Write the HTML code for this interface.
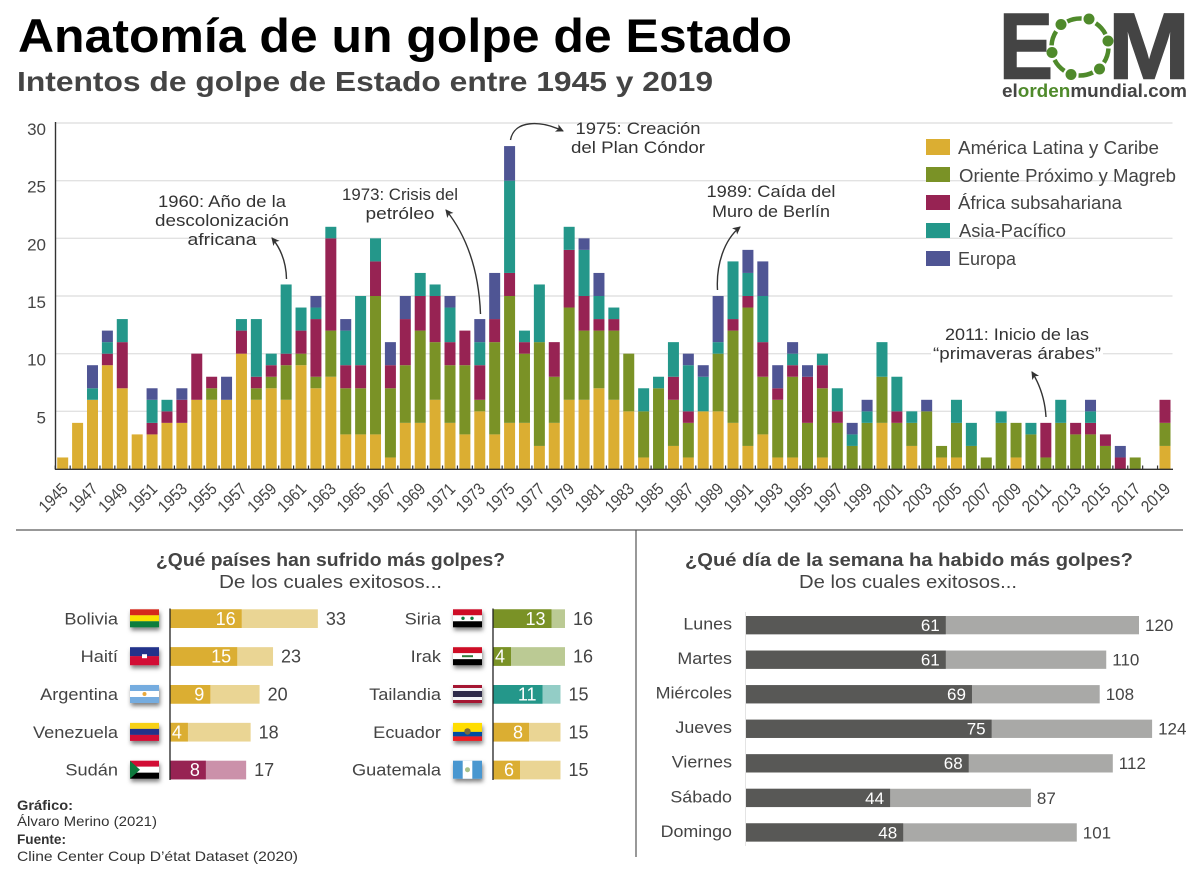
<!DOCTYPE html>
<html lang="es">
<head>
<meta charset="utf-8">
<title>Anatomía de un golpe de Estado</title>
<style>
html,body{margin:0;padding:0;background:#fff;width:1200px;height:873px;overflow:hidden}
svg{display:block}
text{font-family:"Liberation Sans",sans-serif;fill:#444}
.note{font-size:17px;fill:#333;text-anchor:middle}
.leg{font-size:18px;fill:#444}
.foot{font-size:14px;fill:#333}
</style>
</head>
<body>
<svg id="root" xmlns="http://www.w3.org/2000/svg" width="1200" height="873" viewBox="0 0 1200 873">
<defs>
<marker id="arrow" markerWidth="9" markerHeight="9" refX="7" refY="4" orient="auto" markerUnits="userSpaceOnUse"><path d="M0 0L8 4L0 8L2 4Z" fill="#333"/></marker>
<filter id="flagshadow" x="-20%" y="-20%" width="150%" height="180%"><feDropShadow dx="1" dy="3" stdDeviation="2" flood-color="#000" flood-opacity=".5"/></filter>
</defs>
<rect width="1200" height="873" fill="#fff"/>

<text x="18" y="52" font-size="47" font-weight="700" textLength="774" lengthAdjust="spacingAndGlyphs" style="fill:#000">Anatomía de un golpe de Estado</text>
<text x="17" y="91" font-size="28" font-weight="700" textLength="696" lengthAdjust="spacingAndGlyphs">Intentos de golpe de Estado entre 1945 y 2019</text>

<g>
<text x="999" y="78.5" font-size="94" font-weight="700" textLength="54" lengthAdjust="spacingAndGlyphs" stroke="#444" stroke-width="1.5">E</text>
<text x="1108" y="78.5" font-size="94" font-weight="700" textLength="82" lengthAdjust="spacingAndGlyphs" stroke="#444" stroke-width="1.5">M</text>
<circle cx="1080" cy="47" r="28.5" fill="none" stroke="#4f8a2b" stroke-width="4.5" stroke-dasharray="14.85 15" stroke-dashoffset="-1.5"/>
<circle cx="1061" cy="24.5" r="5.5" fill="#4f8a2b"/>
<circle cx="1089" cy="19" r="5.5" fill="#4f8a2b"/>
<circle cx="1108" cy="41" r="5.5" fill="#4f8a2b"/>
<circle cx="1099.5" cy="69" r="5.5" fill="#4f8a2b"/>
<circle cx="1071" cy="74.5" r="5.5" fill="#4f8a2b"/>
<circle cx="1052" cy="52.5" r="5.5" fill="#4f8a2b"/>
<text x="1002" y="97" font-size="18" font-weight="700" textLength="185" lengthAdjust="spacingAndGlyphs">el<tspan style="fill:#4f8a2b">orden</tspan>mundial.com</text>
</g>

<g id="main-chart"></g>

<g>
<rect x="926" y="139" width="24" height="16" fill="#dbae32"/>
<text class="leg" x="958" y="154" textLength="201" lengthAdjust="spacingAndGlyphs">América Latina y Caribe</text>
<rect x="926" y="167" width="24" height="15" fill="#7a9226"/>
<text class="leg" x="959" y="182" textLength="217" lengthAdjust="spacingAndGlyphs">Oriente Próximo y Magreb</text>
<rect x="926" y="195" width="24" height="15" fill="#972353"/>
<text class="leg" x="958" y="209" textLength="164" lengthAdjust="spacingAndGlyphs">África subsahariana</text>
<rect x="926" y="223" width="24" height="15" fill="#24978a"/>
<text class="leg" x="959" y="237" textLength="107" lengthAdjust="spacingAndGlyphs">Asia-Pacífico</text>
<rect x="926" y="251" width="24" height="15" fill="#4f5594"/>
<text class="leg" x="958" y="265" textLength="58" lengthAdjust="spacingAndGlyphs">Europa</text>
</g>

<g>
<text class="note" x="222" y="207" textLength="128" lengthAdjust="spacingAndGlyphs">1960: Año de la</text>
<text class="note" x="222" y="226" textLength="134" lengthAdjust="spacingAndGlyphs">descolonización</text>
<text class="note" x="222" y="245" textLength="69" lengthAdjust="spacingAndGlyphs">africana</text>
<path d="M286.5 279Q286 255 272 238" fill="none" stroke="#333" stroke-width="1.4" marker-end="url(#arrow)"/>
<text class="note" x="400" y="200" textLength="116" lengthAdjust="spacingAndGlyphs">1973: Crisis del</text>
<text class="note" x="400" y="219" textLength="69" lengthAdjust="spacingAndGlyphs">petróleo</text>
<path d="M480.5 314Q478 250 446 210" fill="none" stroke="#333" stroke-width="1.4" marker-end="url(#arrow)"/>
<text class="note" x="638" y="134" textLength="125" lengthAdjust="spacingAndGlyphs">1975: Creación</text>
<text class="note" x="638" y="153" textLength="134" lengthAdjust="spacingAndGlyphs">del Plan Cóndor</text>
<path d="M510.5 140C514 120 540 120 563 131" fill="none" stroke="#333" stroke-width="1.4" marker-end="url(#arrow)"/>
<text class="note" x="771" y="197" textLength="129" lengthAdjust="spacingAndGlyphs">1989: Caída del</text>
<text class="note" x="771" y="217" textLength="118" lengthAdjust="spacingAndGlyphs">Muro de Berlín</text>
<path d="M717.5 290C716 265 724 240 740 227" fill="none" stroke="#333" stroke-width="1.4" marker-end="url(#arrow)"/>
<rect x="931" y="345" width="172" height="17" fill="#fff"/>
<text class="note" x="1017" y="340" textLength="144" lengthAdjust="spacingAndGlyphs">2011: Inicio de las</text>
<text class="note" x="1017" y="359" textLength="168" lengthAdjust="spacingAndGlyphs">“primaveras árabes”</text>
<path d="M1046 417C1045 400 1040 385 1032 372" fill="none" stroke="#333" stroke-width="1.4" marker-end="url(#arrow)"/>
</g>

<line x1="16" y1="530" x2="1183" y2="530" stroke="#777" stroke-width="1.6"/>
<line x1="636" y1="530" x2="636" y2="857" stroke="#555" stroke-width="1.2"/>

<text x="156" y="566" font-size="18" font-weight="700" textLength="349" lengthAdjust="spacingAndGlyphs">¿Qué países han sufrido más golpes?</text>
<text x="219" y="588" font-size="18" textLength="223" lengthAdjust="spacingAndGlyphs">De los cuales exitosos...</text>
<text x="685" y="566" font-size="18" font-weight="700" textLength="448" lengthAdjust="spacingAndGlyphs">¿Qué día de la semana ha habido más golpes?</text>
<text x="799" y="588" font-size="18" textLength="218" lengthAdjust="spacingAndGlyphs">De los cuales exitosos...</text>

<g id="countries-chart"></g>
<g id="weekdays-chart"></g>

<g>
<g transform="translate(130,609.3)" filter="url(#flagshadow)"><rect width="29" height="6" fill="#d52b1e"/><rect y="6" width="29" height="6" fill="#f9e300"/><rect y="12" width="29" height="6" fill="#0a7d3e"/></g>
<g transform="translate(130,647.2)" filter="url(#flagshadow)"><rect width="29" height="9" fill="#20308a"/><rect y="9" width="29" height="9" fill="#d21034"/><rect x="12" y="7" width="5" height="4" fill="#fff"/></g>
<g transform="translate(130,685)" filter="url(#flagshadow)"><rect width="29" height="18" fill="#fff"/><rect width="29" height="6" fill="#74acdf"/><rect y="12" width="29" height="6" fill="#74acdf"/><circle cx="14.5" cy="9" r="2" fill="#e8a93c"/></g>
<g transform="translate(130,722.9)" filter="url(#flagshadow)"><rect width="29" height="6" fill="#f7d116"/><rect y="6" width="29" height="6" fill="#20308a"/><rect y="12" width="29" height="6" fill="#d21034"/></g>
<g transform="translate(130,760.7)" filter="url(#flagshadow)"><rect width="29" height="6" fill="#d21034"/><rect y="6" width="29" height="6" fill="#fff"/><rect y="12" width="29" height="6" fill="#000"/><path d="M0 0L10 9L0 18Z" fill="#0f7a3c"/></g>
<g transform="translate(453,609.3)" filter="url(#flagshadow)"><rect width="29" height="6" fill="#ce1126"/><rect y="6" width="29" height="6" fill="#fff"/><rect y="12" width="29" height="6" fill="#000"/><circle cx="10" cy="9" r="1.7" fill="#0f7a3c"/><circle cx="19" cy="9" r="1.7" fill="#0f7a3c"/></g>
<g transform="translate(453,647.2)" filter="url(#flagshadow)"><rect width="29" height="6" fill="#ce1126"/><rect y="6" width="29" height="6" fill="#fff"/><rect y="12" width="29" height="6" fill="#000"/><rect x="9" y="8" width="11" height="2" fill="#2f7d3a"/></g>
<g transform="translate(453,685)" filter="url(#flagshadow)"><rect width="29" height="18" fill="#a51931"/><rect y="3" width="29" height="12" fill="#f4f5f8"/><rect y="6" width="29" height="6" fill="#2d2a4a"/></g>
<g transform="translate(453,722.9)" filter="url(#flagshadow)"><rect width="29" height="9" fill="#ffdd00"/><rect y="9" width="29" height="4.5" fill="#034ea2"/><rect y="13.5" width="29" height="4.5" fill="#ed1c24"/><circle cx="14.5" cy="8.5" r="3.2" fill="#7a6a3a"/></g>
<g transform="translate(453,760.7)" filter="url(#flagshadow)"><rect width="29" height="18" fill="#4997d0"/><rect x="9.7" width="9.6" height="18" fill="#fff"/><circle cx="14.5" cy="9" r="2.5" fill="#a7c08a"/></g>
</g>

<g>
<text class="foot" x="17" y="810" font-weight="700" textLength="56" lengthAdjust="spacingAndGlyphs">Gráfico:</text>
<text class="foot" x="17" y="826" textLength="140" lengthAdjust="spacingAndGlyphs">Álvaro Merino (2021)</text>
<text class="foot" x="17" y="844" font-weight="700" textLength="49" lengthAdjust="spacingAndGlyphs">Fuente:</text>
<text class="foot" x="17" y="861" textLength="281" lengthAdjust="spacingAndGlyphs">Cline Center Coup D’état Dataset (2020)</text>
</g>
</svg>

<script>
// Main stacked chart data
const years = [1945,1946,1947,1948,1949,1950,1951,1952,1953,1954,1955,1956,1957,1958,1959,1960,1961,1962,1963,1964,1965,1966,1967,1968,1969,1970,1971,1972,1973,1974,1975,1976,1977,1978,1979,1980,1981,1982,1983,1984,1985,1986,1987,1988,1989,1990,1991,1992,1993,1994,1995,1996,1997,1998,1999,2000,2001,2002,2003,2004,2005,2006,2007,2008,2009,2010,2011,2012,2013,2014,2015,2016,2017,2018,2019];
const americaLatina = [1,4,6,9,7,3,3,4,4,6,6,6,10,6,7,6,9,7,8,3,3,3,1,4,4,6,4,3,5,3,4,4,2,4,6,6,7,6,5,1,0,2,1,5,5,4,2,3,1,1,0,1,0,0,0,4,0,2,0,1,1,0,0,0,1,0,0,0,0,0,0,0,0,0,2];
const orienteProximo = [0,0,0,0,0,0,0,0,0,0,1,0,0,1,1,3,1,1,4,4,4,12,6,5,8,5,5,6,1,8,11,6,9,4,8,6,5,6,5,4,7,4,3,0,5,8,12,5,5,7,4,6,4,2,4,4,4,2,5,1,3,2,1,4,3,3,1,4,3,3,2,0,1,0,2];
const africaSub = [0,0,0,1,4,0,1,1,2,4,1,0,2,1,1,1,2,5,8,2,2,3,2,4,3,4,2,3,3,2,2,1,0,3,5,3,1,1,0,0,0,2,1,0,0,1,1,3,1,1,4,2,1,0,0,0,1,0,0,0,0,0,0,0,0,0,3,0,1,1,1,1,0,0,2];
const asiaPacifico = [0,0,1,1,2,0,2,1,0,0,0,0,1,5,1,6,2,1,1,3,6,2,0,0,2,1,3,0,2,0,8,1,5,0,2,4,2,1,0,2,1,3,4,3,1,5,2,4,0,1,0,1,2,1,1,3,3,1,0,0,2,2,0,1,0,1,0,2,0,1,0,0,0,0,0];
const europa = [0,0,2,1,0,0,1,0,1,0,0,2,0,0,0,0,0,1,0,1,0,0,2,2,0,0,1,0,2,4,3,0,0,0,0,1,2,0,0,0,0,0,1,1,4,0,2,3,2,1,1,0,0,1,1,0,0,0,1,0,0,0,0,0,0,0,0,0,0,1,0,1,0,0,0];
const yTicks = [5,10,15,20,25,30];
const yearLabels = [1945,1947,1949,1951,1953,1955,1957,1959,1961,1963,1965,1967,1969,1971,1973,1975,1977,1979,1981,1983,1985,1987,1989,1991,1993,1995,1997,1999,2001,2003,2005,2007,2009,2011,2013,2015,2017,2019];

// Country chart data
const leftCountries = ["Bolivia","Haití","Argentina","Venezuela","Sudán"];
const leftSuccessful = [16,15,9,4,8];
const leftTotals = [33,23,20,18,17];
const leftRegions = ["latam","latam","latam","latam","africa"];
const rightCountries = ["Siria","Irak","Tailandia","Ecuador","Guatemala"];
const rightSuccessful = [13,4,11,8,6];
const rightTotals = [16,16,15,15,15];
const rightRegions = ["mena","mena","asia","latam","latam"];

// Weekday chart data
const weekdays = ["Lunes","Martes","Miércoles","Jueves","Viernes","Sábado","Domingo"];
const daySuccessful = [61,61,69,75,68,44,48];
const dayTotals = [120,110,108,124,112,87,101];

const NS = "http://www.w3.org/2000/svg";
function make(tag, attrs, parent, content) {
  const el = document.createElementNS(NS, tag);
  for (const k in attrs) el.setAttribute(k, attrs[k]);
  if (content !== undefined) el.textContent = content;
  parent.appendChild(el);
  return el;
}
function slug(s) {
  return s.normalize("NFD").replace(/[\u0300-\u036f]/g, "").toLowerCase();
}
function stretch(el, factor) {
  el.setAttribute("textLength", (el.getComputedTextLength() * factor).toFixed(1));
  el.setAttribute("lengthAdjust", "spacingAndGlyphs");
}

/* ---------- main chart ---------- */
const main = document.getElementById("main-chart");
const xYear = i => 62.7 + i * 14.896;
const yVal = v => 469 - v * 11.533;
const seriesList = [
  {key: "america-latina", color: "#dbae32", values: americaLatina},
  {key: "oriente-proximo", color: "#7a9226", values: orienteProximo},
  {key: "africa-subsahariana", color: "#972353", values: africaSub},
  {key: "asia-pacifico", color: "#24978a", values: asiaPacifico},
  {key: "europa", color: "#4f5594", values: europa}
];

yTicks.forEach(t => {
  const g = make("line", {x1: 56, x2: 1172.5, y1: yVal(t), y2: yVal(t), stroke: "#e2e2e2", "stroke-width": 1.4}, main);
  
  
  const lab = make("text", {x: 46, y: yVal(t) + 12, "text-anchor": "end", "font-size": 17}, main, String(t));
  
  
});

years.forEach((yr, i) => {
  let base = 0;
  seriesList.forEach(s => {
    const v = s.values[i];
    if (v > 0) {
      const r = make("rect", {x: xYear(i) - 5.5, y: yVal(base + v), width: 11, height: yVal(base) - yVal(base + v), fill: s.color}, main);
      
      
    }
    base += v;
  });
  const tick = make("line", {x1: xYear(i) - 7.45, x2: xYear(i) - 7.45, y1: 465.5, y2: 469, stroke: "#333", "stroke-width": 1.2}, main);
  
  
});

const yAxis = make("line", {x1: 55.5, x2: 55.5, y1: 122, y2: 470, stroke: "#333", "stroke-width": 1.4}, main);


const xAxis = make("line", {x1: 55, x2: 1173, y1: 469.3, y2: 469.3, stroke: "#333", "stroke-width": 1.4}, main);



yearLabels.forEach(yr => {
  const ax = xYear(years.indexOf(yr)) + 6.3;
  const t = make("text", {transform: "translate(" + ax + ",490) rotate(-45)", "text-anchor": "end", "font-size": 17, textLength: 33, lengthAdjust: "spacingAndGlyphs"}, main, String(yr));
  
  
});

/* ---------- countries chart ---------- */
const countriesRoot = document.getElementById("countries-chart");
const regionDark = {latam: "#dbae32", africa: "#972353", mena: "#7a9226", asia: "#24978a"};
const regionLight = {latam: "#ead594", africa: "#cb91aa", mena: "#bbca94", asia: "#93cdc6"};
const rowY = i => 609.3 + i * 37.85;

function drawCountries(names, wins, totals, regions, axisX, labelX, unit) {
  const scaleX = v => axisX + v * unit;
  names.forEach((name, i) => {
    const y = rowY(i);
    const total = make("rect", {x: axisX, y: y, width: scaleX(totals[i]) - axisX, height: 18.7, fill: regionLight[regions[i]]}, countriesRoot);
    
    
    const win = make("rect", {x: axisX, y: y, width: scaleX(wins[i]) - axisX, height: 18.7, fill: regionDark[regions[i]]}, countriesRoot);
    
    
    const lab = make("text", {x: labelX, y: y + 15, "text-anchor": "end", "font-size": 17}, countriesRoot, name);
    
    
    stretch(lab, 1.07);
    const winLab = make("text", {x: scaleX(wins[i]) - 6, y: y + 15.5, "text-anchor": "end", "font-size": 18, style: "fill:#fff"}, countriesRoot, String(wins[i]));
    
    
    const totLab = make("text", {x: scaleX(totals[i]) + 8, y: y + 15.5, "font-size": 18}, countriesRoot, String(totals[i]));
    
    
  });
  const ax = make("line", {x1: axisX, x2: axisX, y1: 608.5, y2: 780, stroke: "#222", "stroke-width": 1.3}, countriesRoot);
  
  
}
drawCountries(leftCountries, leftSuccessful, leftTotals, leftRegions, 170, 118, 4.48);
drawCountries(rightCountries, rightSuccessful, rightTotals, rightRegions, 493, 441, 4.5);

/* ---------- weekdays chart ---------- */
const daysRoot = document.getElementById("weekdays-chart");
const dayX = v => 746 + v * 3.275;
const dayY = i => 616 + i * 34.55;
const dayAxis = make("line", {x1: 745.5, x2: 745.5, y1: 612, y2: 846, stroke: "#e4e4e4", "stroke-width": 1}, daysRoot);


weekdays.forEach((day, i) => {
  const y = dayY(i);
  const total = make("rect", {x: dayX(0), y: y, width: dayX(dayTotals[i]) - dayX(0), height: 18.3, fill: "#a9a9a7"}, daysRoot);
  
  
  const win = make("rect", {x: dayX(0), y: y, width: dayX(daySuccessful[i]) - dayX(0), height: 18.3, fill: "#585856"}, daysRoot);
  
  
  const lab = make("text", {x: 732, y: y + 13.5, "text-anchor": "end", "font-size": 17}, daysRoot, day);
  
  
  stretch(lab, 1.05);
  const winLab = make("text", {x: dayX(daySuccessful[i]) - 6, y: y + 15, "text-anchor": "end", "font-size": 17, style: "fill:#fff"}, daysRoot, String(daySuccessful[i]));
  
  
  const totLab = make("text", {x: dayX(dayTotals[i]) + 6, y: y + 15, "font-size": 17}, daysRoot, String(dayTotals[i]));
  
  
});
</script>
</body>
</html>
